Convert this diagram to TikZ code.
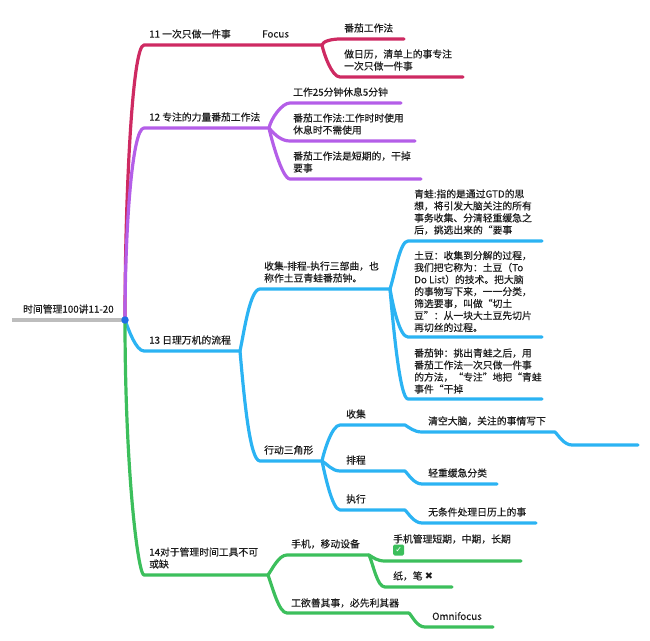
\documentclass[tikz,border=0pt]{standalone}
\usepackage{fontspec}
\setmainfont[FakeBold=0.3]{Noto Sans CJK SC}
\newfontfamily\symfont{DejaVu Sans}
\definecolor{redline}{HTML}{CE2A62}
\definecolor{purpleline}{HTML}{B45EE8}
\definecolor{blueline}{HTML}{2BB3F3}
\definecolor{greenline}{HTML}{3CBF5C}
\definecolor{rootline}{HTML}{BDBDBD}
\definecolor{rootdot}{HTML}{1F6FE5}
\definecolor{labeltext}{HTML}{1C1C1C}
\tikzset{
	lbl/.style={anchor=west, inner sep=0pt, align=left, text=labeltext, font=\fontsize{9.8}{12}\selectfont},
	branch/.style={line width=3.2pt, line cap=round, line join=round},
	rise/.style={out=78, in=180, out distance=10pt, in distance=8pt},
	fall/.style={out=-78, in=180, out distance=10pt, in distance=8pt},
	ess/.style={out=-30, in=180, out distance=5pt, in distance=8pt}
}
\begin{document}
\begin{tikzpicture}[x=1pt, y=-1pt]
	\useasboundingbox (0,0) rectangle (650,640);
	% root
	\coordinate (rootstart) at (12,320);
	\coordinate (root) at (125,320);
	\node[lbl] (troot) at (23,309) {时间管理100讲11-20};

	% 11
	\coordinate (a11) at (144,45);
	\coordinate (b11) at (322,45);
	\coordinate (a11x) at (340,39);
	\coordinate (b11x) at (404,39);
	\coordinate (a11y) at (340,77);
	\coordinate (b11y) at (463,77);
	\node[lbl] (t11) at (149,34) {11 一次只做一件事};
	\node[lbl] (tfocus) at (262,34) {Focus};
	\node[lbl] (t11x) at (344,28) {番茄工作法};
	\node[lbl] (t11y) at (344,60) {做日历，清单上的事专注\\一次只做一件事};
	\draw[branch, redline] (root) to[out=90, in=180, out distance=120pt, in distance=12pt] (a11) -- (b11);
	\draw[branch, redline] (b11) to[rise, out distance=4pt] (a11x) -- (b11x);
	\draw[branch, redline] (b11) to[fall] (a11y) -- (b11y);

	% 12
	\coordinate (a12) at (144,128);
	\coordinate (b12) at (269,128);
	\coordinate (a12x) at (290,103);
	\coordinate (b12x) at (401,103);
	\coordinate (a12y) at (290,141);
	\coordinate (b12y) at (415,141);
	\coordinate (a12z) at (290,179);
	\coordinate (b12z) at (421,179);
	\node[lbl] (t12) at (149,117) {12 专注的力量番茄工作法};
	\node[lbl] (t12x) at (293,92) {工作25分钟休息5分钟};
	\node[lbl] (t12y) at (293,124) {番茄工作法:工作时时使用\\休息时不需使用};
	\node[lbl] (t12z) at (293,162) {番茄工作法是短期的，干掉\\要事};
	\draw[branch, purpleline] (root) to[out=90, in=180, out distance=90pt, in distance=12pt] (a12) -- (b12);
	\draw[branch, purpleline] (b12) to[rise] (a12x) -- (b12x);
	\draw[branch, purpleline] (b12) to[fall, out=-50] (a12y) -- (b12y);
	\draw[branch, purpleline] (b12) to[fall] (a12z) -- (b12z);

	% 13
	\coordinate (a13) at (144,351);
	\coordinate (b13) at (240,351);
	\coordinate (a13x) at (260,289);
	\coordinate (b13x) at (390,289);
	\coordinate (a13y) at (260,461);
	\coordinate (b13y) at (322,461);
	\node[lbl] (t13) at (149,340) {13 日理万机的流程};
	\node[lbl] (t13x) at (264,272) {收集-排程-执行三部曲，也\\称作土豆青蛙番茄钟。};
	\node[lbl] (t13y) at (264,450) {行动三角形};
	\draw[branch, blueline] (root) to[out=-70, in=180, out distance=10pt, in distance=8pt] (a13) -- (b13);
	\draw[branch, blueline] (b13) to[rise, out distance=20pt, in distance=10pt] (a13x) -- (b13x);
	\draw[branch, blueline] (b13) to[fall, out=-85, out distance=50pt, in distance=10pt] (a13y) -- (b13y);

	% frog, potato, tomato
	\coordinate (a13f) at (408,241);
	\coordinate (b13f) at (542,241);
	\coordinate (a13p) at (408,337);
	\coordinate (b13p) at (542,337);
	\coordinate (a13c) at (408,399);
	\coordinate (b13c) at (542,399);
	\node[lbl] (t13f) at (414,212) {青蛙:指的是通过GTD的思\\想，将引发大脑关注的所有\\事务收集、分清轻重缓急之\\后，挑选出来的“要事};
	\node[lbl] (t13p) at (414,291.5) {土豆：收集到分解的过程，\\我们把它称为：土豆（To\\Do List）的技术。把大脑\\的事物写下来，一一分类，\\筛选要事，叫做“切土\\豆”：从一块大土豆先切片\\再切丝的过程。};
	\node[lbl] (t13c) at (414,371) {番茄钟：挑出青蛙之后，用\\番茄工作法一次只做一件事\\的方法，“专注”地把“青蛙\\事件“干掉};
	\draw[branch, blueline] (b13x) to[rise, out=72, out distance=16pt] (a13f) -- (b13f);
	\draw[branch, blueline] (b13x) to[fall, out=-80, out distance=20pt] (a13p) -- (b13p);
	\draw[branch, blueline] (b13x) to[fall, out=-85, out distance=40pt] (a13c) -- (b13c);

	% triangle
	\coordinate (a13u) at (340,425);
	\coordinate (b13u) at (405,425);
	\coordinate (c13u) at (422,432);
	\coordinate (d13u) at (555,432);
	\coordinate (e13u) at (572,445);
	\coordinate (f13u) at (638,445);
	\coordinate (a13v) at (340,471);
	\coordinate (b13v) at (405,471);
	\coordinate (c13v) at (422,484);
	\coordinate (d13v) at (497,484);
	\coordinate (a13w) at (340,510);
	\coordinate (b13w) at (405,510);
	\coordinate (c13w) at (422,523);
	\coordinate (d13w) at (536,523);
	\node[lbl] (t13u) at (346,414) {收集};
	\node[lbl] (t13ux) at (428,421) {清空大脑，关注的事情写下};
	\node[lbl] (t13v) at (346,460) {排程};
	\node[lbl] (t13vx) at (428,473) {轻重缓急分类};
	\node[lbl] (t13w) at (346,499) {执行};
	\node[lbl] (t13wx) at (428,512) {无条件处理日历上的事};
	\draw[branch, blueline] (b13y) to[rise] (a13u) -- (b13u) to[ess] (c13u) -- (d13u) to[ess, out=-45] (e13u) -- (f13u);
	\draw[branch, blueline] (b13y) to[fall, out=-30, out distance=6pt] (a13v) -- (b13v) to[ess, out=-45] (c13v) -- (d13v);
	\draw[branch, blueline] (b13y) to[fall] (a13w) -- (b13w) to[ess, out=-45] (c13w) -- (d13w);

	% 14
	\coordinate (a14) at (144,575);
	\coordinate (b14) at (268,575);
	\coordinate (a14x) at (287,555);
	\coordinate (b14x) at (369,555);
	\coordinate (a14y) at (287,613);
	\coordinate (b14y) at (409,613);
	\coordinate (a14p) at (385,561);
	\coordinate (b14p) at (521,561);
	\coordinate (a14q) at (385,587);
	\coordinate (b14q) at (452,587);
	\coordinate (a14r) at (425,627);
	\coordinate (b14r) at (493,627);
	\node[lbl] (t14) at (149,558) {14对于管理时间工具不可\\或缺};
	\node[lbl] (t14x) at (291,544) {手机，移动设备};
	\node[lbl] (t14y) at (291,603) {工欲善其事，必先利其器};
	\node[lbl] (t14p) at (393,539) {手机管理短期，中期，长期};
	\node[anchor=west, fill=greenline, rounded corners=1.5pt, text=white, inner sep=0pt, minimum width=11pt, minimum height=11pt, font=\symfont\fontsize{8}{8}\selectfont\bfseries] (tcheck) at (393,550) {✓};
	\node[lbl] (t14q) at (393,576) {纸，笔 {\symfont ✖}};
	\node[lbl] (t14r) at (432,616) {Omnifocus};
	\draw[branch, greenline] (root) to[out=-90, in=180, out distance=150pt, in distance=6pt] (a14) -- (b14);
	\draw[branch, greenline] (b14) to[rise, out=55, out distance=8pt] (a14x) -- (b14x);
	\draw[branch, greenline] (b14) to[fall, out=-70, out distance=14pt] (a14y) -- (b14y);
	\draw[branch, greenline] (b14x) to[ess] (a14p) -- (b14p);
	\draw[branch, greenline] (b14x) to[fall, out=-65] (a14q) -- (b14q);
	\draw[branch, greenline] (b14y) to[ess, out=-45] (a14r) -- (b14r);

	% root on top
	\draw[line width=3.2pt, rootline] (rootstart) -- (root);
	\node[circle, fill=rootdot, inner sep=0pt, minimum size=7.5pt] (rootdotnode) at (root) {};
\end{tikzpicture}
\end{document}
